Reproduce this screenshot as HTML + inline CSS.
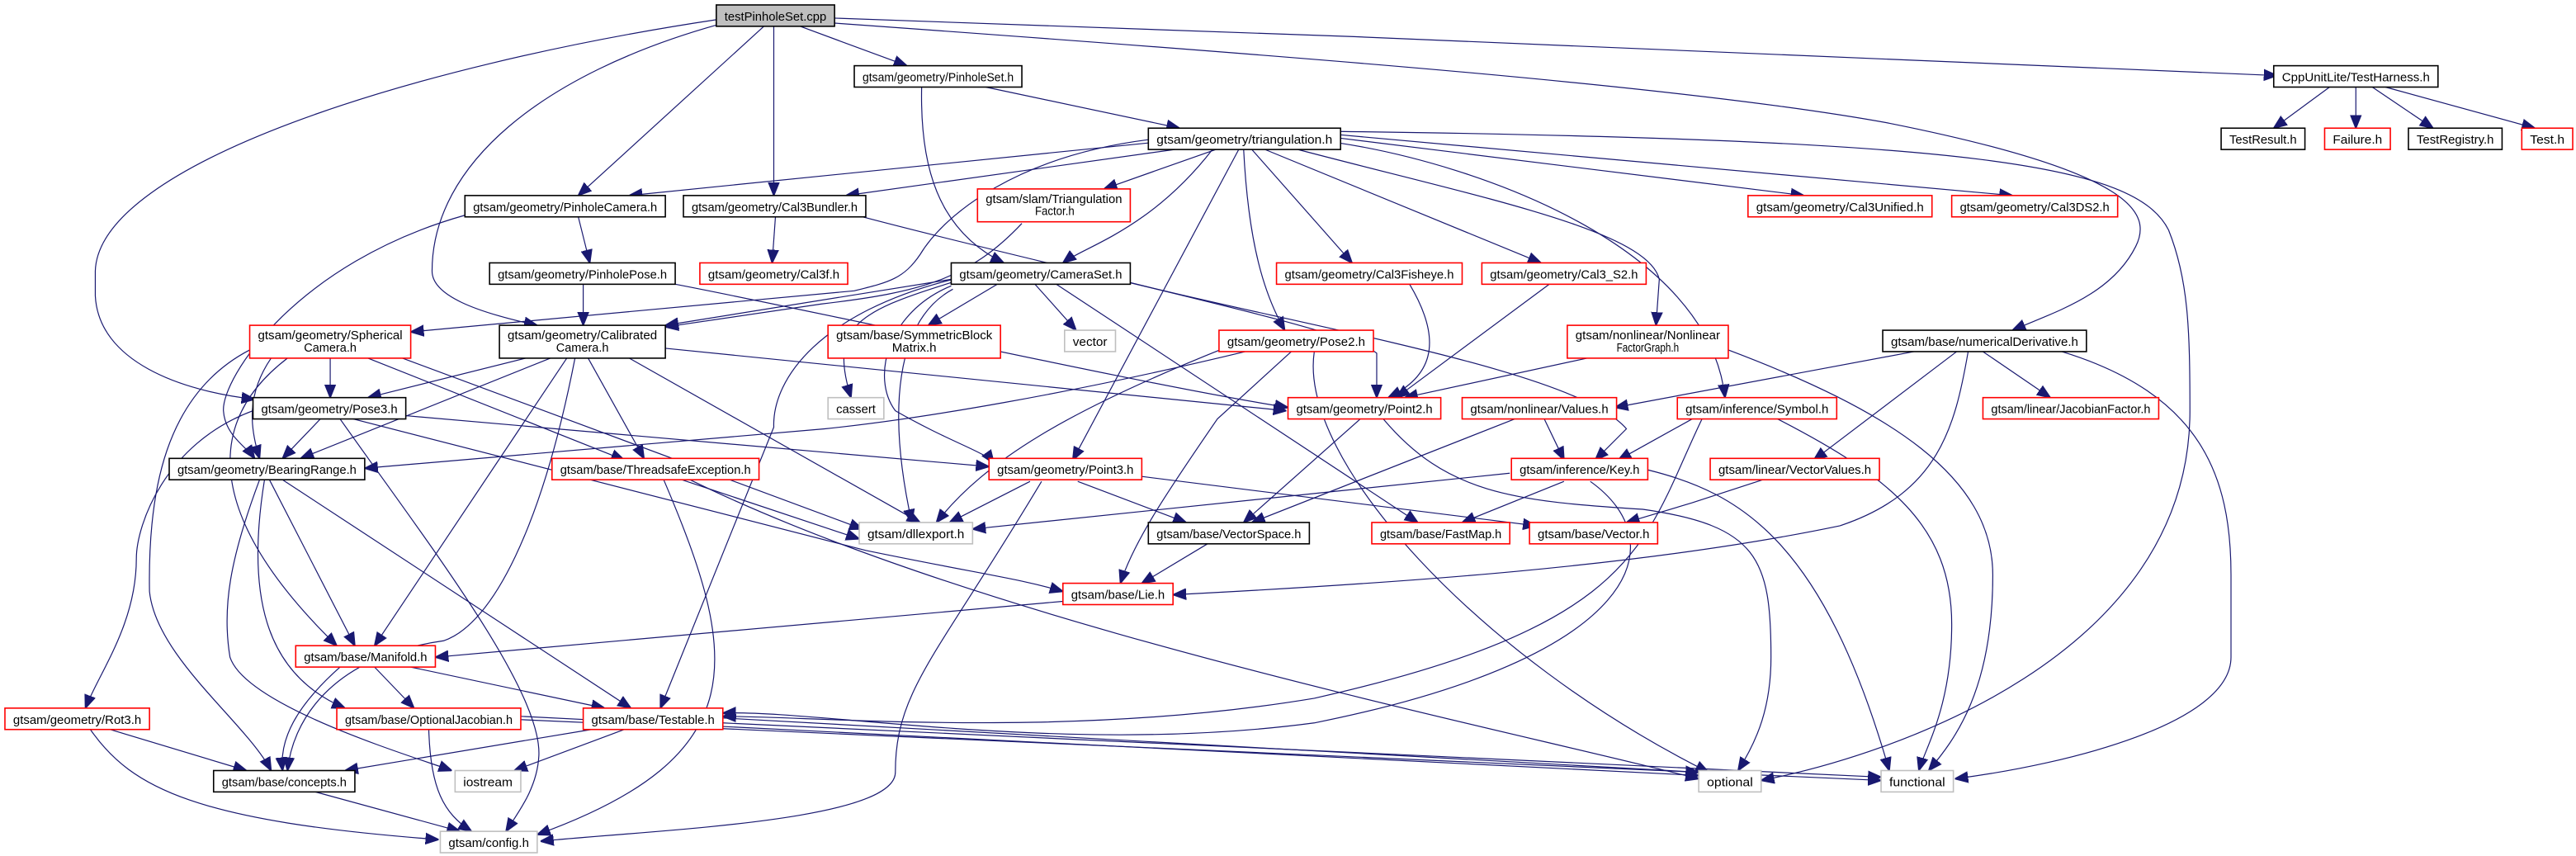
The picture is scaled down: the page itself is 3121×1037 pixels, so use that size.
<!DOCTYPE html>
<html><head><meta charset="utf-8"><style>
html,body{margin:0;padding:0;background:#fff;}
svg{display:block}
text{font-family:"Liberation Sans","DejaVu Sans",sans-serif;font-size:7.6px;fill:#000}
.k{fill:#fff;stroke:#000;stroke-width:0.8}
.r{fill:#fff;stroke:#ff0000;stroke-width:0.8}
.g{fill:#fff;stroke:#bfbfbf;stroke-width:0.8}
.t{fill:#bfbfbf;stroke:#000;stroke-width:0.8}
path{fill:none;stroke:#191970;stroke-width:0.6}
</style></head><body>
<svg width="3121" height="1037" viewBox="0 0 1568 521" preserveAspectRatio="none" xmlns="http://www.w3.org/2000/svg">
<defs><marker id="a" markerUnits="userSpaceOnUse" markerWidth="8" markerHeight="8" viewBox="0 0 10 10" refX="10" refY="5" orient="auto"><path d="M0,1 L10,5 L0,9 Z" style="fill:#191970;stroke:#191970;stroke-width:1"/></marker></defs>
<g marker-end="url(#a)">
<path d="M436,12 C250,40 60,100 58,165 L58,180 C60,220 110,238 155,243"/>
<path d="M437,15 C330,45 263,100 263,165 C263,180 290,190 327,198"/>
<path d="M465,16 L352,119"/>
<path d="M471,16 L471,119"/>
<path d="M487,16 L552,40"/>
<path d="M507,11 C800,20 1200,38 1386,46"/>
<path d="M507,14 C800,35 1030,53 1150,75 C1300,105 1310,130 1300,150 C1285,180 1250,190 1225,201"/>
<path d="M600,53 L718,78"/>
<path d="M561,53 C560,100 570,140 611,160"/>
<path d="M699,87 L383,119"/>
<path d="M715,91 L515,119"/>
<path d="M740,91 L672,115"/>
<path d="M699,85 C620,95 575,130 560,155 C550,170 540,172 520,177 L250,202"/>
<path d="M738,91 C700,140 660,150 647,160"/>
<path d="M754,91 L653,280"/>
<path d="M757,91 C760,150 770,180 782,201"/>
<path d="M762,91 L823,160"/>
<path d="M770,91 L938,160"/>
<path d="M790,91 C900,120 1003,140 1010,170 L1008,198"/>
<path d="M815,87 C900,100 1040,150 1050,242"/>
<path d="M815,84 L1098,119"/>
<path d="M815,82 L1225,119"/>
<path d="M815,80 C1200,85 1300,100 1320,140 C1332,170 1333,200 1333,250 C1333,400 1150,460 1072,475"/>
<path d="M1418,53 L1384,78"/>
<path d="M1434,53 L1434,78"/>
<path d="M1444,53 L1481,78"/>
<path d="M1452,53 L1543,78"/>
<path d="M352,132 L359,160"/>
<path d="M283,131 C180,160 135,230 136,250 C137,265 150,272 155,279"/>
<path d="M472,132 L470,160"/>
<path d="M525,132 C650,165 820,200 838,215 L838,242"/>
<path d="M622,136 C590,170 560,178 500,185 L405,199"/>
<path d="M355,173 L355,198"/>
<path d="M411,173 C500,190 700,235 784,248"/>
<path d="M579,170 L405,198"/>
<path d="M607,173 L565,198"/>
<path d="M630,173 L655,201"/>
<path d="M579,172 C520,190 505,200 518,242"/>
<path d="M580,170 C500,190 470,230 471,260 L402,431"/>
<path d="M688,172 C800,200 960,226 990,261 L971,280"/>
<path d="M643,173 L863,318"/>
<path d="M579,174 C540,190 530,230 545,250 C580,270 600,275 605,282"/>
<path d="M580,176 C545,195 540,250 555,318"/>
<path d="M201,218 L201,242"/>
<path d="M165,218 C150,240 152,260 158,279"/>
<path d="M175,218 C120,260 130,320 205,393"/>
<path d="M152,213 C100,240 90,300 91,360 C95,400 150,440 165,469"/>
<path d="M224,218 L380,280"/>
<path d="M245,218 L525,322"/>
<path d="M195,255 L172,279"/>
<path d="M154,250 C100,270 83,320 83,340 C83,380 60,410 52,431"/>
<path d="M247,253 L602,284"/>
<path d="M215,255 L527,335 C600,350 620,352 647,360"/>
<path d="M207,255 C260,330 330,420 328,460 C327,480 315,495 308,506"/>
<path d="M320,218 L224,242"/>
<path d="M335,218 L183,279"/>
<path d="M345,218 L228,393"/>
<path d="M350,218 C330,320 300,380 270,390 C200,400 178,440 175,469"/>
<path d="M358,218 L392,279"/>
<path d="M383,218 L560,318"/>
<path d="M405,212 L783,250"/>
<path d="M164,292 L216,393"/>
<path d="M172,292 L384,431"/>
<path d="M161,292 C150,360 160,410 210,431"/>
<path d="M158,292 C140,340 135,370 140,400 C150,430 250,460 275,469"/>
<path d="M404,292 C450,400 460,460 327,508"/>
<path d="M415,292 L523,328"/>
<path d="M420,292 C600,380 900,440 1034,474"/>
<path d="M627,293 L578,318"/>
<path d="M656,293 L722,318"/>
<path d="M695,290 L935,320"/>
<path d="M634,293 C570,400 545,420 545,470 C545,500 400,505 329,512"/>
<path d="M919,288 L592,322"/>
<path d="M952,293 L890,318"/>
<path d="M968,293 C1020,330 1000,400 800,440 C650,460 500,432 440,434"/>
<path d="M1003,286 C1060,300 1110,330 1150,469"/>
<path d="M940,255 L952,280"/>
<path d="M922,255 L762,318"/>
<path d="M1030,255 L985,280"/>
<path d="M1082,255 C1150,290 1188,320 1188,380 C1188,430 1172,455 1168,469"/>
<path d="M1036,255 C1000,330 1000,380 800,425 C650,450 500,436 440,436"/>
<path d="M966,218 L855,242"/>
<path d="M1052,213 C1150,250 1213,290 1213,350 C1213,420 1190,450 1174,469"/>
<path d="M1165,214 L983,248"/>
<path d="M1191,214 L1104,280"/>
<path d="M1207,214 L1248,242"/>
<path d="M1198,214 C1190,260 1180,300 1120,320 C1000,345 850,355 714,362"/>
<path d="M1255,214 C1340,240 1358,290 1358,350 L1358,400 C1358,440 1260,465 1190,474"/>
<path d="M858,173 C880,210 870,230 845,242"/>
<path d="M943,173 L850,242"/>
<path d="M828,255 L757,318"/>
<path d="M842,255 C880,300 920,305 1000,310 C1070,320 1078,340 1078,400 C1078,430 1070,450 1058,469"/>
<path d="M786,214 L741,255 C710,300 690,330 682,355"/>
<path d="M758,214 C650,240 560,255 502,261 L222,285"/>
<path d="M745,212 C650,250 600,280 570,318"/>
<path d="M800,214 C790,280 900,400 1040,470"/>
<path d="M735,331 L695,355"/>
<path d="M647,366 L265,400"/>
<path d="M207,406 C180,430 170,450 172,469"/>
<path d="M228,406 L252,431"/>
<path d="M250,406 L368,431"/>
<path d="M261,444 C262,480 270,495 287,506"/>
<path d="M317,436 L1034,472"/>
<path d="M317,438 L1145,475"/>
<path d="M360,444 L210,469"/>
<path d="M380,444 L313,469"/>
<path d="M440,437 L1034,470"/>
<path d="M440,440 L1145,473"/>
<path d="M67,444 L150,469"/>
<path d="M55,444 C80,480 120,500 267,511"/>
<path d="M192,482 L280,506"/>
<path d="M1073,292 L1030,306 L990,318"/>
</g>

<rect class="t" x="436" y="3" width="72" height="13"/><text x="441" y="12.5" textLength="62" lengthAdjust="spacingAndGlyphs">testPinholeSet.cpp</text>
<rect class="k" x="520" y="40" width="102" height="13"/><text x="525" y="49.5" textLength="92" lengthAdjust="spacingAndGlyphs">gtsam/geometry/PinholeSet.h</text>
<rect class="k" x="1384" y="40" width="100" height="13"/><text x="1389" y="49.5" textLength="90" lengthAdjust="spacingAndGlyphs">CppUnitLite/TestHarness.h</text>
<rect class="k" x="699" y="78" width="117" height="13"/><text x="704" y="87.5" textLength="107" lengthAdjust="spacingAndGlyphs">gtsam/geometry/triangulation.h</text>
<rect class="k" x="1352" y="78" width="51" height="13"/><text x="1357" y="87.5" textLength="41" lengthAdjust="spacingAndGlyphs">TestResult.h</text>
<rect class="r" x="1415" y="78" width="40" height="13"/><text x="1420" y="87.5" textLength="30" lengthAdjust="spacingAndGlyphs">Failure.h</text>
<rect class="k" x="1466" y="78" width="57" height="13"/><text x="1471" y="87.5" textLength="47" lengthAdjust="spacingAndGlyphs">TestRegistry.h</text>
<rect class="r" x="1535" y="78" width="31" height="13"/><text x="1540" y="87.5" textLength="21" lengthAdjust="spacingAndGlyphs">Test.h</text>
<rect class="k" x="283" y="119" width="122" height="13"/><text x="288" y="128.5" textLength="112" lengthAdjust="spacingAndGlyphs">gtsam/geometry/PinholeCamera.h</text>
<rect class="k" x="416" y="119" width="111" height="13"/><text x="421" y="128.5" textLength="101" lengthAdjust="spacingAndGlyphs">gtsam/geometry/Cal3Bundler.h</text>
<rect class="r" x="595" y="115" width="93" height="20"/><text x="600" y="123.5" textLength="83" lengthAdjust="spacingAndGlyphs">gtsam/slam/Triangulation</text><text x="630" y="131" textLength="24" lengthAdjust="spacingAndGlyphs">Factor.h</text>
<rect class="r" x="1064" y="119" width="112" height="13"/><text x="1069" y="128.5" textLength="102" lengthAdjust="spacingAndGlyphs">gtsam/geometry/Cal3Unified.h</text>
<rect class="r" x="1188" y="119" width="101" height="13"/><text x="1193" y="128.5" textLength="91" lengthAdjust="spacingAndGlyphs">gtsam/geometry/Cal3DS2.h</text>
<rect class="k" x="298" y="160" width="113" height="13"/><text x="303" y="169.5" textLength="103" lengthAdjust="spacingAndGlyphs">gtsam/geometry/PinholePose.h</text>
<rect class="r" x="426" y="160" width="90" height="13"/><text x="431" y="169.5" textLength="80" lengthAdjust="spacingAndGlyphs">gtsam/geometry/Cal3f.h</text>
<rect class="k" x="579" y="160" width="109" height="13"/><text x="584" y="169.5" textLength="99" lengthAdjust="spacingAndGlyphs">gtsam/geometry/CameraSet.h</text>
<rect class="r" x="777" y="160" width="113" height="13"/><text x="782" y="169.5" textLength="103" lengthAdjust="spacingAndGlyphs">gtsam/geometry/Cal3Fisheye.h</text>
<rect class="r" x="902" y="160" width="100" height="13"/><text x="907" y="169.5" textLength="90" lengthAdjust="spacingAndGlyphs">gtsam/geometry/Cal3_S2.h</text>
<rect class="r" x="152" y="198" width="98" height="20"/><text x="157" y="206.5" textLength="88" lengthAdjust="spacingAndGlyphs">gtsam/geometry/Spherical</text><text x="185" y="214" textLength="32" lengthAdjust="spacingAndGlyphs">Camera.h</text>
<rect class="k" x="304" y="198" width="101" height="20"/><text x="309" y="206.5" textLength="91" lengthAdjust="spacingAndGlyphs">gtsam/geometry/Calibrated</text><text x="338.5" y="214" textLength="32" lengthAdjust="spacingAndGlyphs">Camera.h</text>
<rect class="r" x="504" y="198" width="105" height="20"/><text x="509" y="206.5" textLength="95" lengthAdjust="spacingAndGlyphs">gtsam/base/SymmetricBlock</text><text x="543" y="214" textLength="27" lengthAdjust="spacingAndGlyphs">Matrix.h</text>
<rect class="g" x="648" y="201" width="31" height="13"/><text x="653" y="210.5" textLength="21" lengthAdjust="spacingAndGlyphs">vector</text>
<rect class="r" x="742" y="201" width="94" height="13"/><text x="747" y="210.5" textLength="84" lengthAdjust="spacingAndGlyphs">gtsam/geometry/Pose2.h</text>
<rect class="r" x="954" y="198" width="98" height="20"/><text x="959" y="206.5" textLength="88" lengthAdjust="spacingAndGlyphs">gtsam/nonlinear/Nonlinear</text><text x="984" y="214" textLength="38" lengthAdjust="spacingAndGlyphs">FactorGraph.h</text>
<rect class="k" x="1146" y="201" width="124" height="13"/><text x="1151" y="210.5" textLength="114" lengthAdjust="spacingAndGlyphs">gtsam/base/numericalDerivative.h</text>
<rect class="k" x="154" y="242" width="93" height="13"/><text x="159" y="251.5" textLength="83" lengthAdjust="spacingAndGlyphs">gtsam/geometry/Pose3.h</text>
<rect class="g" x="504" y="242" width="34" height="13"/><text x="509" y="251.5" textLength="24" lengthAdjust="spacingAndGlyphs">cassert</text>
<rect class="r" x="784" y="242" width="93" height="13"/><text x="789" y="251.5" textLength="83" lengthAdjust="spacingAndGlyphs">gtsam/geometry/Point2.h</text>
<rect class="r" x="890" y="242" width="94" height="13"/><text x="895" y="251.5" textLength="84" lengthAdjust="spacingAndGlyphs">gtsam/nonlinear/Values.h</text>
<rect class="r" x="1021" y="242" width="97" height="13"/><text x="1026" y="251.5" textLength="87" lengthAdjust="spacingAndGlyphs">gtsam/inference/Symbol.h</text>
<rect class="r" x="1207" y="242" width="107" height="13"/><text x="1212" y="251.5" textLength="97" lengthAdjust="spacingAndGlyphs">gtsam/linear/JacobianFactor.h</text>
<rect class="k" x="103" y="279" width="119" height="13"/><text x="108" y="288.5" textLength="109" lengthAdjust="spacingAndGlyphs">gtsam/geometry/BearingRange.h</text>
<rect class="r" x="336" y="279" width="126" height="13"/><text x="341" y="288.5" textLength="116" lengthAdjust="spacingAndGlyphs">gtsam/base/ThreadsafeException.h</text>
<rect class="r" x="602" y="279" width="93" height="13"/><text x="607" y="288.5" textLength="83" lengthAdjust="spacingAndGlyphs">gtsam/geometry/Point3.h</text>
<rect class="r" x="920" y="279" width="83" height="13"/><text x="925" y="288.5" textLength="73" lengthAdjust="spacingAndGlyphs">gtsam/inference/Key.h</text>
<rect class="r" x="1041" y="279" width="103" height="13"/><text x="1046" y="288.5" textLength="93" lengthAdjust="spacingAndGlyphs">gtsam/linear/VectorValues.h</text>
<rect class="g" x="523" y="318" width="69" height="13"/><text x="528" y="327.5" textLength="59" lengthAdjust="spacingAndGlyphs">gtsam/dllexport.h</text>
<rect class="k" x="699" y="318" width="98" height="13"/><text x="704" y="327.5" textLength="88" lengthAdjust="spacingAndGlyphs">gtsam/base/VectorSpace.h</text>
<rect class="r" x="835" y="318" width="84" height="13"/><text x="840" y="327.5" textLength="74" lengthAdjust="spacingAndGlyphs">gtsam/base/FastMap.h</text>
<rect class="r" x="931" y="318" width="78" height="13"/><text x="936" y="327.5" textLength="68" lengthAdjust="spacingAndGlyphs">gtsam/base/Vector.h</text>
<rect class="r" x="647" y="355" width="67" height="13"/><text x="652" y="364.5" textLength="57" lengthAdjust="spacingAndGlyphs">gtsam/base/Lie.h</text>
<rect class="r" x="180" y="393" width="85" height="13"/><text x="185" y="402.5" textLength="75" lengthAdjust="spacingAndGlyphs">gtsam/base/Manifold.h</text>
<rect class="r" x="3" y="431" width="88" height="13"/><text x="8" y="440.5" textLength="78" lengthAdjust="spacingAndGlyphs">gtsam/geometry/Rot3.h</text>
<rect class="r" x="205" y="431" width="112" height="13"/><text x="210" y="440.5" textLength="102" lengthAdjust="spacingAndGlyphs">gtsam/base/OptionalJacobian.h</text>
<rect class="r" x="355" y="431" width="85" height="13"/><text x="360" y="440.5" textLength="75" lengthAdjust="spacingAndGlyphs">gtsam/base/Testable.h</text>
<rect class="k" x="130" y="469" width="86" height="13"/><text x="135" y="478.5" textLength="76" lengthAdjust="spacingAndGlyphs">gtsam/base/concepts.h</text>
<rect class="g" x="277" y="469" width="40" height="13"/><text x="282" y="478.5" textLength="30" lengthAdjust="spacingAndGlyphs">iostream</text>
<rect class="g" x="1034" y="469" width="38" height="13"/><text x="1039" y="478.5" textLength="28" lengthAdjust="spacingAndGlyphs">optional</text>
<rect class="g" x="1145" y="469" width="44" height="13"/><text x="1150" y="478.5" textLength="34" lengthAdjust="spacingAndGlyphs">functional</text>
<rect class="g" x="268" y="506" width="59" height="13"/><text x="273" y="515.5" textLength="49" lengthAdjust="spacingAndGlyphs">gtsam/config.h</text>
</svg>
</body></html>
